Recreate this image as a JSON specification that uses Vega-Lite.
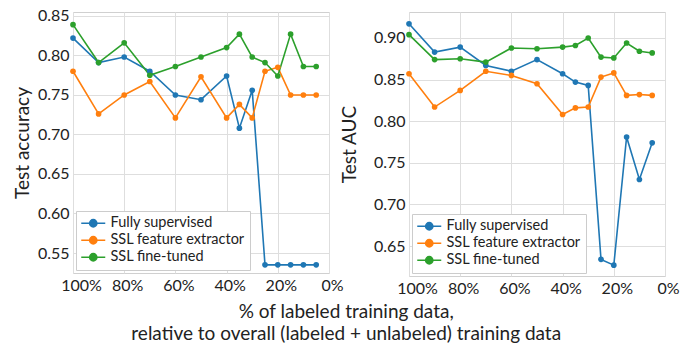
{
  "$schema": "https://vega.github.io/schema/vega-lite/v6.json",
  "padding": {"left": 12, "top": 7, "right": 5, "bottom": 5},
  "spacing": -5,
  "resolve": {"legend": {"color": "independent"}},
  "config": {
    "font": "Lato",
    "view": {"stroke": "#d0d0d0", "strokeWidth": 1},
    "axis": {"grid": true, "gridColor": "#dedede", "gridWidth": 1, "domain": false, "ticks": false, "labelFont": "Lato", "labelFontSize": 16, "labelColor": "#222222", "titleFont": "Lato", "titleFontSize": 19, "titleFontWeight": "normal", "titleColor": "#222222", "labelPadding": 4, "titlePadding": 5},
    "legend": {"orient": "bottom-left", "offset": 3, "strokeColor": "#cccccc", "fillColor": "#ffffff", "padding": 5, "labelFont": "Lato", "labelFontSize": 14.5, "labelColor": "#222222", "symbolType": "M-2,0L2,0M-0.6,0A0.6,0.6,0,1,1,0.6,0A0.6,0.6,0,1,1,-0.6,0Z", "symbolSize": 144, "symbolOffset": 5, "symbolStrokeWidth": 1.6, "rowPadding": 1, "labelOffset": 10, "title": null}
  },
  "title": {"text": ["% of labeled training data,", "relative to overall (labeled + unlabeled) training data"], "orient": "bottom", "anchor": "middle", "font": "Lato", "fontSize": 19, "fontWeight": "normal", "color": "#222222", "offset": 6, "lineHeight": 22},
  "datasets": {
    "acc": [
      {"pct": 100, "method": "Fully supervised", "value": 0.822},
      {"pct": 90, "method": "Fully supervised", "value": 0.791},
      {"pct": 80, "method": "Fully supervised", "value": 0.798},
      {"pct": 70, "method": "Fully supervised", "value": 0.780},
      {"pct": 60, "method": "Fully supervised", "value": 0.750},
      {"pct": 50, "method": "Fully supervised", "value": 0.744},
      {"pct": 40, "method": "Fully supervised", "value": 0.774},
      {"pct": 35, "method": "Fully supervised", "value": 0.708},
      {"pct": 30, "method": "Fully supervised", "value": 0.756},
      {"pct": 25, "method": "Fully supervised", "value": 0.535},
      {"pct": 20, "method": "Fully supervised", "value": 0.535},
      {"pct": 15, "method": "Fully supervised", "value": 0.535},
      {"pct": 10, "method": "Fully supervised", "value": 0.535},
      {"pct": 5, "method": "Fully supervised", "value": 0.535},
      {"pct": 100, "method": "SSL feature extractor", "value": 0.780},
      {"pct": 90, "method": "SSL feature extractor", "value": 0.726},
      {"pct": 80, "method": "SSL feature extractor", "value": 0.750},
      {"pct": 70, "method": "SSL feature extractor", "value": 0.767},
      {"pct": 60, "method": "SSL feature extractor", "value": 0.721},
      {"pct": 50, "method": "SSL feature extractor", "value": 0.773},
      {"pct": 40, "method": "SSL feature extractor", "value": 0.721},
      {"pct": 35, "method": "SSL feature extractor", "value": 0.738},
      {"pct": 30, "method": "SSL feature extractor", "value": 0.721},
      {"pct": 25, "method": "SSL feature extractor", "value": 0.780},
      {"pct": 20, "method": "SSL feature extractor", "value": 0.785},
      {"pct": 15, "method": "SSL feature extractor", "value": 0.750},
      {"pct": 10, "method": "SSL feature extractor", "value": 0.750},
      {"pct": 5, "method": "SSL feature extractor", "value": 0.750},
      {"pct": 100, "method": "SSL fine-tuned", "value": 0.839},
      {"pct": 90, "method": "SSL fine-tuned", "value": 0.791},
      {"pct": 80, "method": "SSL fine-tuned", "value": 0.816},
      {"pct": 70, "method": "SSL fine-tuned", "value": 0.775},
      {"pct": 60, "method": "SSL fine-tuned", "value": 0.786},
      {"pct": 50, "method": "SSL fine-tuned", "value": 0.798},
      {"pct": 40, "method": "SSL fine-tuned", "value": 0.810},
      {"pct": 35, "method": "SSL fine-tuned", "value": 0.827},
      {"pct": 30, "method": "SSL fine-tuned", "value": 0.798},
      {"pct": 25, "method": "SSL fine-tuned", "value": 0.791},
      {"pct": 20, "method": "SSL fine-tuned", "value": 0.774},
      {"pct": 15, "method": "SSL fine-tuned", "value": 0.827},
      {"pct": 10, "method": "SSL fine-tuned", "value": 0.786},
      {"pct": 5, "method": "SSL fine-tuned", "value": 0.786}
    ],
    "auc": [
      {"pct": 100, "method": "Fully supervised", "value": 0.917},
      {"pct": 90, "method": "Fully supervised", "value": 0.883},
      {"pct": 80, "method": "Fully supervised", "value": 0.889},
      {"pct": 70, "method": "Fully supervised", "value": 0.867},
      {"pct": 60, "method": "Fully supervised", "value": 0.860},
      {"pct": 50, "method": "Fully supervised", "value": 0.874},
      {"pct": 40, "method": "Fully supervised", "value": 0.857},
      {"pct": 35, "method": "Fully supervised", "value": 0.847},
      {"pct": 30, "method": "Fully supervised", "value": 0.843},
      {"pct": 25, "method": "Fully supervised", "value": 0.634},
      {"pct": 20, "method": "Fully supervised", "value": 0.627},
      {"pct": 15, "method": "Fully supervised", "value": 0.781},
      {"pct": 10, "method": "Fully supervised", "value": 0.730},
      {"pct": 5, "method": "Fully supervised", "value": 0.774},
      {"pct": 100, "method": "SSL feature extractor", "value": 0.857},
      {"pct": 90, "method": "SSL feature extractor", "value": 0.817},
      {"pct": 80, "method": "SSL feature extractor", "value": 0.837},
      {"pct": 70, "method": "SSL feature extractor", "value": 0.860},
      {"pct": 60, "method": "SSL feature extractor", "value": 0.855},
      {"pct": 50, "method": "SSL feature extractor", "value": 0.845},
      {"pct": 40, "method": "SSL feature extractor", "value": 0.808},
      {"pct": 35, "method": "SSL feature extractor", "value": 0.816},
      {"pct": 30, "method": "SSL feature extractor", "value": 0.817},
      {"pct": 25, "method": "SSL feature extractor", "value": 0.853},
      {"pct": 20, "method": "SSL feature extractor", "value": 0.858},
      {"pct": 15, "method": "SSL feature extractor", "value": 0.831},
      {"pct": 10, "method": "SSL feature extractor", "value": 0.832},
      {"pct": 5, "method": "SSL feature extractor", "value": 0.831},
      {"pct": 100, "method": "SSL fine-tuned", "value": 0.904},
      {"pct": 90, "method": "SSL fine-tuned", "value": 0.874},
      {"pct": 80, "method": "SSL fine-tuned", "value": 0.875},
      {"pct": 70, "method": "SSL fine-tuned", "value": 0.871},
      {"pct": 60, "method": "SSL fine-tuned", "value": 0.888},
      {"pct": 50, "method": "SSL fine-tuned", "value": 0.887},
      {"pct": 40, "method": "SSL fine-tuned", "value": 0.889},
      {"pct": 35, "method": "SSL fine-tuned", "value": 0.891},
      {"pct": 30, "method": "SSL fine-tuned", "value": 0.900},
      {"pct": 25, "method": "SSL fine-tuned", "value": 0.877},
      {"pct": 20, "method": "SSL fine-tuned", "value": 0.876},
      {"pct": 15, "method": "SSL fine-tuned", "value": 0.894},
      {"pct": 10, "method": "SSL fine-tuned", "value": 0.884},
      {"pct": 5, "method": "SSL fine-tuned", "value": 0.882}
    ]
  },
  "hconcat": [
    {
      "width": 256,
      "height": 261,
      "data": {"name": "acc"},
      "encoding": {
        "x": {"field": "pct", "type": "quantitative", "scale": {"domain": [0, 100], "reverse": true, "nice": false}, "axis": {"values": [100, 80, 60, 40, 20, 0], "labelExpr": "datum.value + '%'", "title": null, "labelFlush": false, "labelOverlap": false, "labelOffset": {"condition": {"test": "datum.value == 100", "value": 8}, "value": 3}}},
        "y": {"field": "value", "type": "quantitative", "scale": {"domain": [0.5247, 0.855], "zero": false, "nice": false}, "axis": {"values": [0.55, 0.6, 0.65, 0.7, 0.75, 0.8, 0.85], "format": ".2f", "title": "Test accuracy"}},
        "color": {"field": "method", "type": "nominal", "scale": {"domain": ["Fully supervised", "SSL feature extractor", "SSL fine-tuned"], "range": ["#1f77b4", "#ff7f0e", "#2ca02c"]}, "legend": {"encode": {"symbols": {"update": {"fill": {"scale": "color", "field": "value"}, "stroke": {"scale": "color", "field": "value"}}}}}}
      },
      "layer": [
        {"mark": {"type": "line", "strokeWidth": 1.6}},
        {"mark": {"type": "point", "filled": true, "size": 32, "opacity": 1}}
      ]
    },
    {
      "width": 256,
      "height": 264,
      "data": {"name": "auc"},
      "encoding": {
        "x": {"field": "pct", "type": "quantitative", "scale": {"domain": [0, 100], "reverse": true, "nice": false}, "axis": {"values": [100, 80, 60, 40, 20, 0], "labelExpr": "datum.value + '%'", "title": null, "labelFlush": false, "labelOverlap": false, "labelOffset": {"condition": {"test": "datum.value == 100", "value": 8}, "value": 3}}},
        "y": {"field": "value", "type": "quantitative", "scale": {"domain": [0.614, 0.9312], "zero": false, "nice": false}, "axis": {"values": [0.65, 0.7, 0.75, 0.8, 0.85, 0.9], "format": ".2f", "title": "Test AUC", "titlePadding": 14}},
        "color": {"field": "method", "type": "nominal", "scale": {"domain": ["Fully supervised", "SSL feature extractor", "SSL fine-tuned"], "range": ["#1f77b4", "#ff7f0e", "#2ca02c"]}, "legend": {"encode": {"symbols": {"update": {"fill": {"scale": "color", "field": "value"}, "stroke": {"scale": "color", "field": "value"}}}}}}
      },
      "layer": [
        {"mark": {"type": "line", "strokeWidth": 1.6}},
        {"mark": {"type": "point", "filled": true, "size": 32, "opacity": 1}}
      ]
    }
  ]
}
